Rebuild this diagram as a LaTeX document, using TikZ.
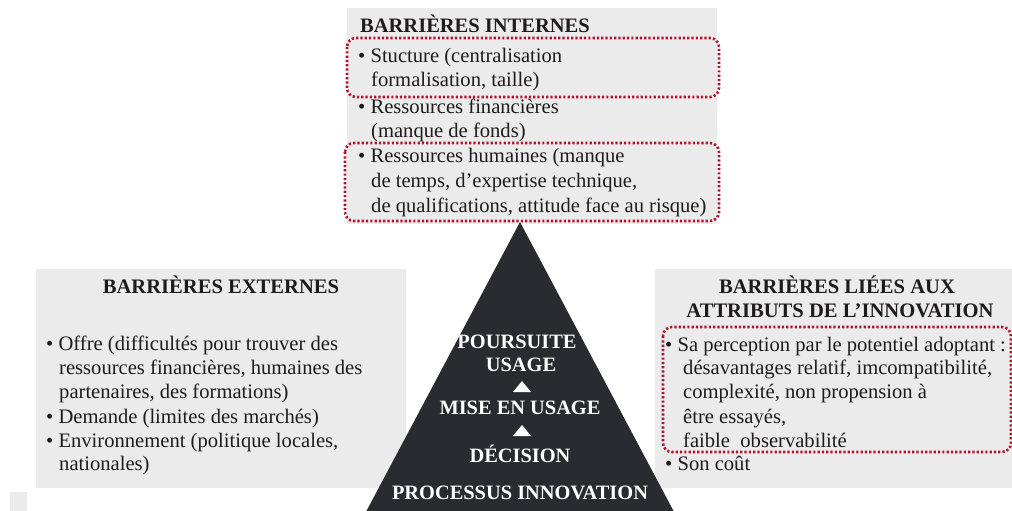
\documentclass[tikz,border=0pt]{standalone}
\usepackage{fontspec}
\setmainfont{Liberation Serif}
\newfontfamily\tms{Liberation Serif}
\definecolor{boxgray}{HTML}{EBEBEB}
\definecolor{pyr}{HTML}{2A2B30}
\definecolor{dotred}{HTML}{B3122C}
\definecolor{ink}{HTML}{1E1B1C}
\tikzset{
  body/.style={anchor=base west, inner sep=0pt, text=ink, font=\tms\fontsize{20.6}{24}\selectfont},
  ttl/.style={anchor=base, inner sep=0pt, text=ink, font=\tms\bfseries\fontsize{20.6}{24}\selectfont},
  ttlw/.style={anchor=base west, inner sep=0pt, text=ink, font=\tms\bfseries\fontsize{20.5}{24}\selectfont},
  pyrtxt/.style={anchor=base, inner sep=0pt, text=white, font=\tms\bfseries\fontsize{20.4}{24}\selectfont},
  dotbox/.style={draw=dotred, line width=2.6pt, dash pattern=on 2.2pt off 2.1pt, rounded corners=9pt},
  graybox/.style={fill=boxgray, draw=none}
}
\begin{document}
\begin{tikzpicture}[x=1pt,y=-1pt]
\useasboundingbox (0,0) rectangle (1012,511);
% gray boxes
\fill[boxgray] (347,8) rectangle (717,224);
\fill[boxgray] (36,269) rectangle (406,488);
\fill[boxgray] (655,269) rectangle (1020,488);
\fill[boxgray] (10,492) rectangle (27,511);
% dotted highlight boxes
\draw[dotbox] (347,38) rectangle (719,97);
\draw[dotbox] (345,143) rectangle (719,221);
\draw[dotbox] (663,327) rectangle (1011,452);
% top box text
\node[ttlw] (ti) at (360,33) {BARRIÈRES INTERNES};
\node[body] (i1) at (358,63) {• Stucture (centralisation};
\node[body] (i1b) at (371,87) {formalisation, taille)};
\node[body] (i2) at (358,113) {• Ressources financières};
\node[body] (i2b) at (371,137) {(manque de fonds)};
\node[body] (i3) at (358,162) {• Ressources humaines (manque};
\node[body] (i3b) at (371,187) {de temps, d’expertise technique,};
\node[body] (i3c) at (371,212) {de qualifications, attitude face au risque)};
% left box text
\node[ttl] (te) at (221,293) {BARRIÈRES EXTERNES};
\node[body] (e1) at (46,350) {• Offre (difficultés pour trouver des};
\node[body] (e1b) at (59,374) {ressources financières, humaines des};
\node[body] (e1c) at (59,398) {partenaires, des formations)};
\node[body] (e2) at (46,423) {• Demande (limites des marchés)};
\node[body] (e3) at (46,447) {• Environnement (politique locales,};
\node[body] (e3b) at (59,470) {nationales)};
% right box text
\node[ttl] (ta) at (837,293) {BARRIÈRES LIÉES AUX};
\node[ttl] (tb) at (840,317) {ATTRIBUTS DE L’INNOVATION};
\node[body] (a1) at (665,351) {• Sa perception par le potentiel adoptant :};
\node[body] (a1b) at (683,374) {désavantages relatif, imcompatibilité,};
\node[body] (a1c) at (683,398) {complexité, non propension à};
\node[body] (a1d) at (683,423) {être essayés,};
\node[body] (a1e) at (683,447) {faible\ \ observabilité};
\node[body] (a2) at (665,470) {• Son coût};
% pyramid
\fill[pyr] (520,222) -- (359,525) -- (681,525) -- cycle;
\node[pyrtxt] (p1) at (517,348) {POURSUITE};
\node[pyrtxt] (p2) at (521,371) {USAGE};
\fill[white] (522,381) -- (531,392) -- (513,392) -- cycle;
\node[pyrtxt] (p3) at (520,414) {MISE EN USAGE};
\fill[white] (522,425) -- (531,436) -- (513,436) -- cycle;
\node[pyrtxt] (p4) at (520,462) {DÉCISION};
\node[pyrtxt] (p5) at (520,499) {PROCESSUS INNOVATION};
\end{tikzpicture}
\end{document}
